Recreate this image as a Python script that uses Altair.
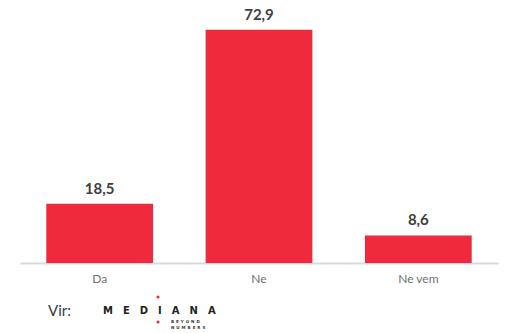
import altair as alt
import pandas as pd

categories = ["Da", "Ne", "Ne vem"]
values = [18.5, 72.9, 8.6]

df = pd.DataFrame({"cat": categories, "v": values})

RED = "#EE2A3C"
FONT = "Lato"

base = alt.Chart(df).encode(
    x=alt.X("cat:N", sort=categories, title=None,
            scale=alt.Scale(paddingInner=0.33, paddingOuter=0.165),
            axis=alt.Axis(labelAngle=0, ticks=False, domainColor="#d9d9d9",
                          domainWidth=2, labelColor="#707070", labelFont=FONT,
                          labelFontSize=12, labelPadding=10)),
    y=alt.Y("v:Q", title=None, scale=alt.Scale(domain=[0, 80]), axis=None),
)

bars = base.mark_bar(color=RED)
labels = base.transform_calculate(
    lab="replace(format(datum.v, '.1f'), '.', ',')"
).mark_text(dy=-15, font=FONT, fontSize=15, fontWeight="bold", color="#404040").encode(
    text="lab:N"
)

one = pd.DataFrame({"a": [0]})
vir = alt.Chart(one).mark_text(font=FONT, fontSize=15, color="#3a3a3a", align="left",
                               baseline="middle").encode(
    x=alt.value(28), y=alt.value(304), text=alt.value("Vir:"))
logo = alt.Chart(one).mark_text(font="DejaVu Sans", fontSize=10, fontWeight="bold",
                                color="#222222", align="left", baseline="middle").encode(
    x=alt.value(83), y=alt.value(304), text=alt.value("\u2003".join("MEDIANA")))
dots = alt.Chart(pd.DataFrame({"py": [290, 315]})).mark_circle(color=RED, opacity=1, size=10).encode(
    x=alt.value(138), y=alt.Y("py:Q", scale=None))
sub1 = alt.Chart(one).mark_text(font="DejaVu Sans", fontSize=4, fontWeight="bold",
                                color="#333333", align="left", baseline="middle").encode(
    x=alt.value(151), y=alt.value(315), text=alt.value("\u2002".join("BEYOND")))
sub2 = alt.Chart(one).mark_text(font="DejaVu Sans", fontSize=4, fontWeight="bold",
                                color="#333333", align="left", baseline="middle").encode(
    x=alt.value(151), y=alt.value(321), text=alt.value("\u2002".join("NUMBERS")))

chart = alt.layer(bars, labels, vir, logo, dots, sub1, sub2).properties(
    width=478, height=256,
    background="white",
    autosize=alt.AutoSizeParams(type="none"),
    padding={"left": 20, "top": 7, "right": 28, "bottom": 70},
).configure_view(stroke=None)

chart.save("out.html", embed_options={"renderer": "svg", "actions": False})
